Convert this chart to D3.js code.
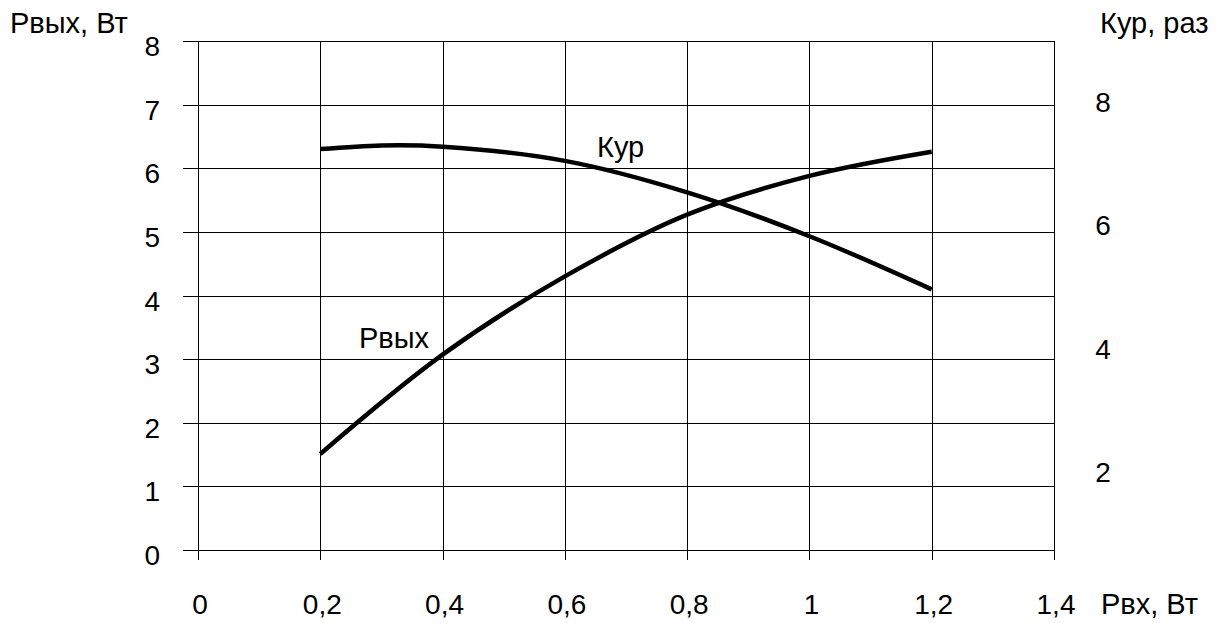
<!DOCTYPE html>
<html><head><meta charset="utf-8">
<script src="https://cdn.jsdelivr.net/npm/d3@7"></script>
<style>
html,body{margin:0;padding:0;background:#fff;}
text{font-family:"Liberation Sans",Arial,sans-serif;fill:#000;}
</style></head>
<body><svg id="c" width="1222" height="623"></svg>
<script>
const xTicks = [0, 0.2, 0.4, 0.6, 0.8, 1.0, 1.2, 1.4];
const xTickLabels = ["0", "0,2", "0,4", "0,6", "0,8", "1", "1,2", "1,4"];
const yLeftTicks = [0, 1, 2, 3, 4, 5, 6, 7, 8];
const yRightTicks = [2, 4, 6, 8];
const pin = [0.2, 0.4, 0.6, 0.8, 1.0, 1.2];
const pout = [1.51, 3.07, 4.30, 5.27, 5.88, 6.26];
const kupX = [0.2, 0.3, 0.4, 0.6, 0.8, 1.0, 1.2];
const kup = [7.25, 7.31, 7.29, 7.06, 6.55, 5.84, 4.98];

const svg = d3.select("#c");
const x = d3.scaleLinear().domain([0, 1.4]).range([198, 1054]);
const y = d3.scaleLinear().domain([0, 8]).range([550, 41]);
const yr = d3.scaleLinear().domain([0, 9]).range([597, 41]);

const g = svg.append("g");
g.selectAll("line.h").data(yLeftTicks).join("line")
  .attr("x1", x(0) - 15).attr("x2", x(1.4))
  .attr("y1", d => Math.round(y(d)) + 0.5).attr("y2", d => Math.round(y(d)) + 0.5)
  .attr("stroke", "#000").attr("stroke-width", 1);
g.selectAll("line.v").data(xTicks).join("line")
  .attr("x1", d => Math.round(x(d)) + 0.5).attr("x2", d => Math.round(x(d)) + 0.5)
  .attr("y1", y(8)).attr("y2", y(0) + 10)
  .attr("stroke", "#000").attr("stroke-width", 1);

g.selectAll("text.yl").data(yLeftTicks).join("text")
  .attr("x", 160).attr("y", d => y(d) + 15)
  .attr("text-anchor", "end").attr("font-size", 28).text(d => d);
g.selectAll("text.yr").data(yRightTicks).join("text")
  .attr("x", 1103).attr("y", d => yr(d) + 9)
  .attr("text-anchor", "middle").attr("font-size", 28).text(d => d);
g.selectAll("text.x").data(xTicks).join("text")
  .attr("x", d => x(d) + 2).attr("y", 614)
  .attr("text-anchor", "middle").attr("font-size", 28).text((d, i) => xTickLabels[i]);

svg.append("text").attr("x", 10).attr("y", 33).attr("font-size", 29).text("Рвых, Вт");
svg.append("text").attr("x", 1100).attr("y", 33).attr("font-size", 29).text("Кур, раз");
svg.append("text").attr("x", 1101).attr("y", 614).attr("font-size", 29).text("Рвх, Вт");

const lineP = d3.line().x((d, i) => x(pin[i])).y(d => y(d)).curve(d3.curveCatmullRom.alpha(0.5));
const lineK = d3.line().x((d, i) => x(kupX[i])).y(d => yr(d)).curve(d3.curveCatmullRom.alpha(0.5));
svg.append("path").attr("d", lineP(pout)).attr("fill", "none").attr("stroke", "#000").attr("stroke-width", 4.5);
svg.append("path").attr("d", lineK(kup)).attr("fill", "none").attr("stroke", "#000").attr("stroke-width", 4.5);

svg.append("text").attr("x", 597).attr("y", 157).attr("font-size", 29).text("Кур");
svg.append("text").attr("x", 359).attr("y", 348).attr("font-size", 29).text("Рвых");
</script></body></html>
